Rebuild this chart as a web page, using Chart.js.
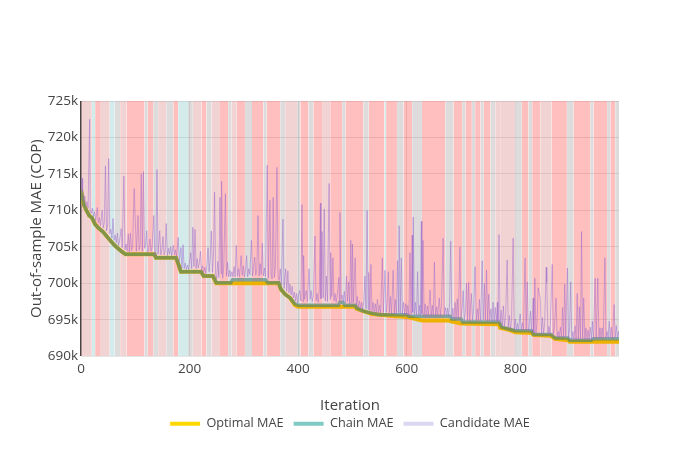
<!DOCTYPE html>
<html><head><meta charset="utf-8">
<script src="https://cdn.jsdelivr.net/npm/chart.js@4"></script>
<style>html,body{margin:0;padding:0;background:#fff}</style>
</head><body>
<canvas id="c" width="700" height="450"></canvas>
<script>
// ---- data (values in thousands of COP) ----
const xTicks = [0, 200, 400, 600, 800];
const yTicks = [690, 695, 700, 705, 710, 715, 720, 725];

const optIter = [0,2,5,10,15,20,26,32,40,48,56,62,68,76,82,135,138,175,179,184,221,226,243,249,364,368,376,385,394,400,505,508,520,536,580,600,612,628,678,682,700,770,772,790,800,830,834,866,873,897,900,991];
const optVal  = [712.8,712.0,710.8,710.0,709.3,709.0,708.1,707.6,707.1,706.4,705.7,705.2,704.8,704.3,704.0,704.0,703.5,703.5,702.7,701.6,701.6,701.0,701.0,700.0,700.0,699.2,698.5,698.0,697.0,696.8,696.8,696.5,696.2,695.8,695.5,695.4,695.2,694.9,694.9,694.8,694.5,694.4,693.9,693.6,693.3,693.2,692.9,692.8,692.4,692.2,692.0,692.0];

const chainIter = [0,2,5,10,15,20,26,32,40,48,56,62,68,76,82,135,138,175,179,184,221,226,243,249,276,279,340,344,364,368,376,385,394,400,474,477,482,486,505,508,520,536,550,600,604,680,683,700,703,770,775,790,800,830,834,866,873,897,900,940,944,991];
const chainVal  = [712.8,712.0,710.8,710.0,709.3,709.0,708.1,707.6,707.1,706.4,705.7,705.2,704.8,704.3,704.0,704.0,703.5,703.5,702.7,701.6,701.6,701.0,701.0,700.1,700.1,700.5,700.5,700.1,700.1,699.2,698.5,698.0,697.2,697.0,697.0,697.4,697.4,697.0,697.0,696.6,696.2,695.9,695.7,695.7,695.5,695.5,695.1,695.1,694.7,694.7,694.0,693.7,693.5,693.5,693.0,693.0,692.5,692.5,692.2,692.2,692.4,692.4];

// candidate MAE: [iteration, value]
const candidateMAE = [[0,712.8],[2,714.4],[3,712.5],[5,711.3],[7,712.0],[9,710.6],[11,711.2],[13,710.3],[16,722.5],[17,710.0],[19,709.6],[21,710.3],[23,709.2],[25,709.8],[27,708.6],[30,710.4],[32,708.3],[34,709.0],[36,707.9],[39,710.0],[41,707.6],[43,708.4],[45,716.1],[47,707.2],[49,708.0],[51,717.1],[53,706.8],[55,707.4],[57,706.2],[59,708.9],[61,705.9],[63,706.6],[65,705.6],[67,706.9],[69,705.2],[71,705.8],[74,707.5],[76,704.9],[79,714.7],[81,704.6],[83,705.4],[85,704.4],[87,706.8],[89,704.3],[91,706.9],[93,704.5],[95,705.1],[98,713.0],[100,708.6],[102,704.4],[105,709.3],[107,704.6],[109,705.2],[111,715.0],[113,704.4],[115,715.3],[117,704.8],[119,705.4],[121,707.2],[123,704.3],[125,704.9],[127,706.1],[129,704.4],[131,705.0],[134,709.3],[136,704.3],[138,703.9],[140,715.6],[142,704.0],[145,707.2],[147,703.9],[149,704.6],[151,706.4],[153,703.9],[155,704.5],[157,708.2],[159,703.8],[161,704.8],[163,704.0],[165,705.0],[167,703.8],[170,705.2],[172,703.9],[174,704.6],[176,703.7],[179,706.3],[181,703.0],[184,704.9],[186,702.1],[188,705.3],[190,702.0],[192,702.8],[194,701.9],[196,702.5],[198,701.9],[200,703.0],[202,704.2],[204,702.0],[206,707.7],[208,702.3],[210,707.4],[212,702.0],[214,703.4],[216,702.1],[218,702.8],[220,704.4],[222,701.8],[224,702.4],[226,701.5],[228,702.2],[230,701.3],[232,702.6],[234,704.9],[236,701.6],[238,703.3],[240,707.2],[242,701.5],[244,703.9],[246,712.5],[248,701.2],[250,700.6],[252,703.0],[254,700.8],[256,711.8],[258,701.3],[259,714.0],[261,700.7],[263,702.4],[266,712.3],[268,701.0],[270,702.9],[272,700.9],[274,701.8],[276,700.9],[278,701.6],[280,700.9],[282,702.3],[284,700.9],[286,705.2],[288,701.0],[290,702.0],[292,700.9],[295,703.8],[297,701.1],[299,702.4],[301,700.9],[303,701.8],[305,703.8],[307,700.9],[309,702.0],[311,701.2],[314,705.9],[316,701.0],[318,702.2],[320,703.6],[322,701.1],[324,702.0],[326,709.3],[328,701.0],[330,702.7],[332,701.2],[334,705.5],[336,701.0],[338,702.1],[340,700.9],[343,716.2],[345,700.7],[348,711.4],[350,701.4],[352,700.6],[354,711.8],[356,700.8],[358,702.2],[361,715.9],[363,701.0],[365,700.4],[367,702.0],[369,699.8],[372,708.8],[374,699.3],[377,702.0],[379,698.9],[381,701.7],[383,698.7],[385,699.9],[387,698.4],[389,699.6],[391,698.0],[393,698.8],[395,697.6],[397,698.6],[399,697.3],[401,698.5],[403,699.0],[405,697.6],[407,710.8],[409,697.5],[410,703.8],[412,697.8],[413,698.4],[415,699.0],[417,697.5],[420,702.0],[422,697.8],[424,699.0],[426,697.5],[428,698.3],[431,706.5],[433,697.6],[435,698.6],[437,697.4],[439,699.2],[441,711.0],[442,697.9],[444,707.1],[446,698.0],[448,710.2],[450,697.6],[452,701.0],[454,697.5],[457,713.7],[459,697.8],[460,704.2],[462,698.2],[464,703.5],[466,697.6],[468,698.6],[470,697.4],[472,698.4],[475,700.8],[476,697.6],[477,709.7],[479,697.8],[481,698.4],[483,697.5],[485,698.9],[487,697.3],[489,701.0],[491,697.5],[493,700.2],[495,697.2],[497,705.9],[499,697.3],[500,705.4],[502,697.4],[505,703.5],[507,697.0],[509,698.2],[511,696.7],[513,697.6],[515,696.5],[517,697.4],[519,696.4],[521,697.6],[523,701.0],[525,696.5],[527,710.0],[529,696.4],[530,701.5],[532,696.3],[534,702.6],[536,696.2],[538,697.4],[540,696.1],[542,697.2],[544,696.0],[546,697.8],[548,696.0],[550,697.0],[552,695.9],[555,703.5],[557,696.0],[560,701.8],[562,696.0],[564,697.3],[566,701.6],[568,696.0],[570,698.2],[572,695.9],[575,701.8],[577,695.9],[579,697.8],[581,695.8],[583,703.1],[585,696.0],[586,707.9],[588,695.9],[590,703.5],[592,695.8],[594,697.4],[596,695.7],[598,697.2],[600,695.7],[602,697.0],[604,695.6],[606,704.2],[608,695.7],[610,706.6],[611,696.0],[612,709.1],[614,695.7],[616,697.4],[618,695.6],[620,701.6],[622,695.7],[624,697.0],[625,695.6],[627,708.5],[628,695.8],[630,705.9],[632,695.6],[634,697.2],[636,695.5],[638,696.9],[640,695.6],[643,699.1],[645,695.5],[647,697.0],[649,695.6],[651,702.9],[653,695.5],[655,696.8],[657,695.6],[660,698.0],[662,695.5],[664,696.9],[667,706.2],[669,695.7],[671,696.7],[673,695.5],[675,696.6],[677,695.5],[679,697.3],[681,705.8],[683,695.3],[685,696.6],[687,695.2],[689,697.4],[691,695.2],[693,697.9],[695,695.2],[698,705.0],[700,695.3],[702,696.6],[704,699.0],[706,694.9],[708,696.0],[710,700.0],[712,695.0],[714,700.1],[716,694.9],[719,698.6],[721,694.9],[723,696.2],[726,702.3],[728,694.9],[730,696.5],[732,695.0],[734,697.8],[736,694.9],[739,703.1],[741,695.0],[743,700.0],[745,695.0],[747,701.8],[749,694.9],[751,698.5],[753,694.9],[755,696.5],[757,694.8],[759,697.4],[761,694.8],[763,696.7],[765,694.8],[767,697.4],[768,694.8],[770,706.7],[772,694.6],[774,696.3],[776,694.2],[778,696.9],[780,694.1],[782,695.3],[785,703.2],[787,694.0],[789,695.6],[791,693.8],[793,694.8],[796,706.2],[798,693.7],[800,695.1],[802,693.6],[804,694.5],[806,693.6],[809,695.8],[811,693.6],[813,694.6],[815,693.6],[818,703.5],[820,693.6],[822,700.2],[824,693.5],[826,694.3],[828,696.2],[830,693.4],[833,698.0],[834,693.2],[836,700.7],[838,693.2],[840,694.5],[842,699.4],[844,698.7],[846,698.0],[848,693.1],[850,695.3],[852,693.1],[854,694.4],[857,702.2],[858,700.1],[860,693.1],[862,694.1],[864,693.0],[868,702.6],[870,693.0],[872,693.9],[875,698.0],[877,692.7],[879,693.4],[881,692.6],[883,694.0],[885,692.6],[887,696.7],[889,692.6],[891,699.9],[893,692.7],[894,696.2],[896,702.1],[898,692.5],[900,693.9],[902,700.2],[904,692.3],[906,693.4],[908,692.3],[910,694.2],[912,692.3],[914,698.6],[916,692.3],[918,696.8],[920,692.4],[922,707.1],[924,692.4],[926,698.0],[928,692.3],[930,693.9],[932,692.3],[934,693.6],[936,692.3],[938,694.0],[940,692.3],[942,694.8],[944,692.4],[947,700.7],[949,692.5],[952,700.7],[954,692.5],[956,693.9],[958,692.5],[960,693.9],[962,692.5],[965,703.5],[967,692.6],[969,693.4],[971,692.5],[973,694.8],[975,692.5],[977,694.0],[979,692.5],[982,697.1],[984,692.6],[986,694.2],[988,692.6],[990,693.4],[991,692.7]];

// background bands: iteration edges and the state of each band
// r = rejected run, p = mostly rejected, g = mixed, c = accepted run
const bandEdges = [0,20,26,35,53,62,72,84,117,123,133,142,157,170,179,197,206,222,231,240,256,271,277,287,302,315,336,342,367,376,398,404,419,428,444,459,481,487,520,530,559,562,582,594,610,628,671,686,702,708,720,726,736,742,754,763,772,800,812,824,831,846,867,895,907,938,944,969,975,984,991];
const bandKinds = ("pcrpcgprgr"+"gpgrcgprgp"+"rgprgrgrgp"+"grgrprgrgr"+"crgrgrgrgr"+"grgrgppgrg"+"rprgrgrgrg").split("");

// ---- build chart ----
const FONT = "'Open Sans', 'DejaVu Sans', sans-serif";
const TXT = '#444';
const bandColor = {r:'rgba(255,0,0,0.25)', p:'rgba(200,70,70,0.24)', g:'rgba(120,110,110,0.25)', c:'rgba(80,175,175,0.25)'};
const bandSets = Object.keys(bandColor).map(k => {
  const data = [];
  bandKinds.forEach((kind, i) => {
    if (kind !== k) return;
    data.push({x: bandEdges[i], y: 725}, {x: bandEdges[i+1], y: 725}, {x: bandEdges[i+1], y: null});
  });
  return {label: 'band-' + k, data, fill: 'start', backgroundColor: bandColor[k], borderWidth: 0,
          pointRadius: 0, spanGaps: false, order: 10};
});

const toXY = (xs, ys) => xs.map((x, i) => ({x, y: ys[i]}));

new Chart(document.getElementById('c'), {
  type: 'line',
  data: {
    datasets: [
      ...bandSets,
      {label: 'Optimal MAE', data: toXY(optIter, optVal), borderColor: '#EDB200', borderWidth: 4,
       pointRadius: 0, fill: false, order: 3, yAxisID: 'y'},
      {label: 'Chain MAE', data: toXY(chainIter, chainVal), borderColor: 'rgba(60,130,120,0.6)', borderWidth: 3.5,
       pointRadius: 0, fill: false, order: 2, yAxisID: 'y'},
      {label: 'Candidate MAE', data: candidateMAE.map(p => ({x: p[0], y: p[1]})), borderColor: 'rgba(160,110,205,0.5)',
       borderWidth: 1, pointRadius: 0, fill: false, order: 1, yAxisID: 'y'}
    ]
  },
  options: {
    responsive: false, animation: false, devicePixelRatio: 1,
    layout: {padding: {top: 101, right: 0, left: 0, bottom: 10}},
    plugins: {
      tooltip: {enabled: false},
      legend: {
        position: 'bottom',
        labels: {
          font: {family: FONT, size: 12.7}, color: TXT, boxWidth: 30, boxHeight: 4, padding: 10,
          generateLabels: () => [
            {text: 'Optimal MAE', fillStyle: '#FFD700', strokeStyle: '#FFD700', lineWidth: 0, fontColor: TXT},
            {text: 'Chain MAE', fillStyle: '#7FCAC3', strokeStyle: '#7FCAC3', lineWidth: 0, fontColor: TXT},
            {text: 'Candidate MAE', fillStyle: '#DCD5F3', strokeStyle: '#DCD5F3', lineWidth: 0, fontColor: TXT}
          ]
        }
      }
    },
    scales: {
      x: {
        type: 'linear', min: 0, max: 991,
        afterBuildTicks: s => { s.ticks = xTicks.map(v => ({value: v})); },
        ticks: {font: {family: FONT, size: 13.5}, color: TXT, padding: 5, maxRotation: 0},
        grid: {drawTicks: false,
               color: c => (c.tick && c.tick.value === 0) ? '#444' : 'rgba(0,0,0,0.1)',
               lineWidth: c => (c.tick && c.tick.value === 0) ? 1.5 : 1},
        border: {display: false},
        title: {display: true, text: 'Iteration', font: {family: FONT, size: 15}, color: TXT, padding: {top: 0, bottom: -7}},
        afterFit: s => { s.height = 51; }
      },
      y: {
        position: 'left', min: 690, max: 725,
        afterBuildTicks: s => { s.ticks = yTicks.map(v => ({value: v})); },
        ticks: {font: {family: FONT, size: 13.5}, color: TXT, padding: 3, callback: v => v + 'k'},
        grid: {drawTicks: false, color: 'rgba(0,0,0,0.1)'},
        border: {display: false},
        title: {display: true, text: 'Out-of-sample MAE (COP)', font: {family: FONT, size: 15}, color: TXT, padding: {top: 28, bottom: 0}},
        afterFit: s => { s.width = 81; }
      },
      yRight: {
        position: 'right', min: 690, max: 725, display: true,
        ticks: {display: false}, grid: {display: false, drawTicks: false}, border: {display: false},
        afterFit: s => { s.width = 81; }
      }
    }
  }
});
</script>
</body></html>
